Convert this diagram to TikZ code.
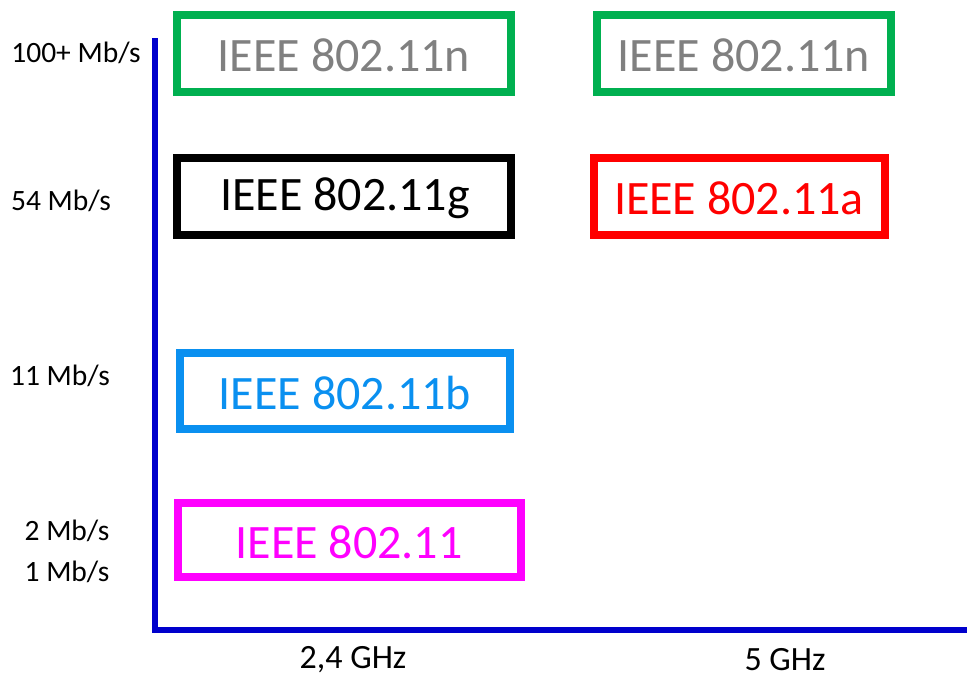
\documentclass[tikz,border=0pt]{standalone}
\usepackage{fontspec}
\setmainfont{Carlito}
\definecolor{cgreen}{HTML}{00B050}
\definecolor{cgray}{HTML}{808080}
\definecolor{cred}{HTML}{FF0000}
\definecolor{cblue}{HTML}{0A90F0}
\definecolor{cmag}{HTML}{FF00FF}
\definecolor{caxis}{HTML}{0000CC}
\begin{document}
\begin{tikzpicture}[x=1pt,y=-1pt,
  stdbox/.style={draw,line width=8pt},
  boxtext/.style={font=\fontsize{48}{54}\selectfont,inner sep=0pt},
  axlab/.style={font=\fontsize{29.5}{32}\selectfont,inner sep=0pt},
  freqlab/.style={font=\fontsize{34}{36}\selectfont,inner sep=0pt},
  axline/.style={draw=caxis,line width=6pt}]
\useasboundingbox (0,0) rectangle (967,678);
% boxes
\draw[stdbox,cgreen] (177,15) rectangle (511,92);
\node[boxtext,text=cgray] (n1) at (344,55) {IEEE 802.11n};
\draw[stdbox,cgreen] (597,15) rectangle (891,92);
\node[boxtext,text=cgray] (n2) at (744,55) {IEEE 802.11n};
\draw[stdbox,black] (177,158) rectangle (511,235);
\node[boxtext,text=black] (g) at (345,198) {IEEE 802.11g};
\draw[stdbox,cred] (594,158) rectangle (885,235);
\node[boxtext,text=cred] (a) at (739,198) {IEEE 802.11a};
\draw[stdbox,cblue] (180,353) rectangle (510,429);
\node[boxtext,text=cblue] (b) at (345,393) {IEEE 802.11b};
\draw[stdbox,cmag] (178,503) rectangle (521,577);
\node[boxtext,text=cmag] (p) at (349,542) {IEEE 802.11};
% axes
\coordinate (top) at (155,38);
\coordinate (origin) at (155,630);
\coordinate (right) at (967,630);
\draw[axline] (top) -- (origin) -- (right);
% labels
\node[axlab] (l100) at (76,53) {100+ Mb/s};
\node[axlab] (l54) at (61,201) {54 Mb/s};
\node[axlab] (l11) at (60,376) {11 Mb/s};
\node[axlab] (l2) at (67,531) {2 Mb/s};
\node[axlab] (l1) at (67,572) {1 Mb/s};
\node[freqlab] (f24) at (353,660) {2,4 GHz};
\node[freqlab] (f5) at (785,660) {5 GHz};
\end{tikzpicture}
\end{document}
